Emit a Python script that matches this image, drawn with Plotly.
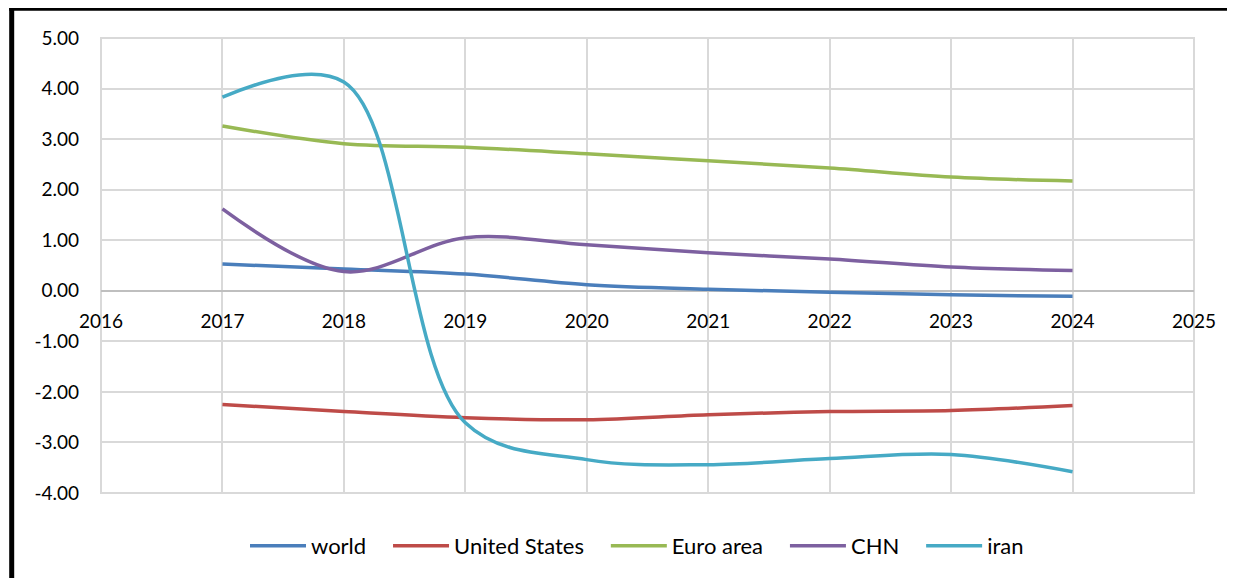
import plotly.graph_objects as go

years = [2017, 2018, 2019, 2020, 2021, 2022, 2023, 2024]
world = [0.53, 0.43, 0.33, 0.12, 0.03, -0.03, -0.08, -0.11]
united_states = [-2.25, -2.39, -2.51, -2.55, -2.45, -2.39, -2.37, -2.27]
euro_area = [3.26, 2.91, 2.84, 2.71, 2.57, 2.43, 2.25, 2.17]
chn = [1.62, 0.38, 1.05, 0.91, 0.75, 0.63, 0.47, 0.40]
iran = [3.83, 4.13, -2.61, -3.34, -3.44, -3.32, -3.24, -3.58]

series_names = ["world", "United States", "Euro area", "CHN", "iran"]
series_values = [world, united_states, euro_area, chn, iran]
series_colors = ["#4a7ebb", "#be4b48", "#98b954", "#7d60a0", "#46aac5"]

y_ticks = [5, 4, 3, 2, 1, 0, -1, -2, -3, -4]
x_ticks = list(range(2016, 2026))

# extra spacing between legend entries (non-breaking spaces after the label)
PAD = "\u00a0\u00a0\u00a0"

fig = go.Figure()
for i, (name, vals, color) in enumerate(zip(series_names, series_values, series_colors)):
    label = name + (PAD if i < len(series_names) - 1 else "")
    fig.add_trace(go.Scatter(
        x=years, y=vals, name=label, mode="lines",
        line=dict(color=color, width=3.5, shape="spline", smoothing=1.0),
    ))

font_family = "Lato, 'Open Sans', sans-serif"

# page has an 8px body margin; margins are set so the plot area lands at the reference position
L, T, R, B = 93, 30, 49, 93
W, H = 1235, 578
pw, ph = W - L - R, H - T - B


def px(x):  # screen x -> paper
    return (x - 8 - L) / pw


def py(y):  # screen y -> paper
    return (H - B - (y - 8)) / ph


fig.update_layout(
    width=W, height=H,
    margin=dict(l=L, r=R, t=T, b=B, autoexpand=False),
    paper_bgcolor="white", plot_bgcolor="white",
    font=dict(family=font_family, size=19, color="black"),
    showlegend=True,
    legend=dict(orientation="h", x=px(245), xanchor="left", y=py(546), yanchor="middle",
                font=dict(size=22), itemwidth=56, traceorder="normal"),
    xaxis=dict(
        range=[2016, 2025], tickmode="array", tickvals=x_ticks,
        ticktext=[str(v) for v in x_ticks],
        showgrid=True, gridcolor="#d9d9d9", gridwidth=2,
        showline=False, zeroline=False,
        anchor="free", position=4/9,
        ticks="", ticklabelstandoff=17,
    ),
    yaxis=dict(
        range=[-4, 5], tickmode="array", tickvals=y_ticks,
        ticktext=[f"{v:.2f}" for v in y_ticks],
        showgrid=True, gridcolor="#d9d9d9", gridwidth=2,
        zeroline=True, zerolinecolor="#bfbfbf", zerolinewidth=2,
        showline=False, ticks="", ticklabelstandoff=21,
    ),
)

# plot area outline
fig.add_shape(type="rect", xref="paper", yref="paper", x0=0, x1=1, y0=0, y1=1,
              line=dict(color="#d9d9d9", width=2), layer="below")
# black frame (left and top)
fig.add_shape(type="line", xref="paper", yref="paper",
              x0=px(11.7), x1=px(11.7), y0=py(7.5), y1=py(700),
              line=dict(color="black", width=5))
fig.add_shape(type="line", xref="paper", yref="paper",
              x0=px(9.2), x1=px(1300), y0=py(9), y1=py(9),
              line=dict(color="black", width=3.5))

fig.write_html("out.html")
